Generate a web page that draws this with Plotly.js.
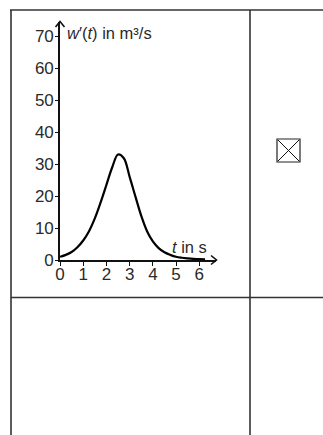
<!DOCTYPE html>
<html>
<head>
<meta charset="utf-8">
<script src="https://cdn.plot.ly/plotly-3.0.1.min.js"></script>
<style>
html,body{margin:0;padding:0;background:#fff;}
#chart{width:323px;height:435px;}
</style>
</head>
<body>
<div id="chart"></div>
<script>
// Data
const tValues = [0,0.25,0.5,0.75,1,1.25,1.5,1.75,2,2.25,2.5,2.75,3,3.25,3.5,3.75,4,4.25,4.5,4.75,5,5.25,5.5,5.75,6,6.25];
const wPrime = [1.0,1.6,2.5,4.0,6.1,9.0,13.0,18.0,23.5,29.0,33.0,31.8,26.0,19.8,13.8,9.0,5.8,3.7,2.4,1.6,1.0,0.7,0.5,0.35,0.25,0.2];
const xTicks = [0,1,2,3,4,5,6];
const yTicks = [0,10,20,30,40,50,60,70];
const yAxisTitle = "<i>w</i>′(<i>t</i>) in m³/s";
const xAxisTitle = "<i>t</i> in s";

// layout geometry (pixels)
const W = 323, H = 435;
const M = {l: 60, r: 107, t: 22, b: 175};
const pw = W - M.l - M.r, ph = H - M.t - M.b;
const px = x => (x - M.l) / pw;
const py = y => (H - M.b - y) / ph;

const lineCol = '#333';
const tableLine = (x0, y0, x1, y1) => ({
  type: 'line', xref: 'paper', yref: 'paper',
  x0: px(x0), y0: py(y0), x1: px(x1), y1: py(y1),
  line: {color: lineCol, width: 1.6}
});
const pathPx = (pts, w) => ({
  type: 'path', xref: 'paper', yref: 'paper',
  path: pts.map((p, i) => (i ? 'L' : 'M') + px(p[0]) + ',' + py(p[1])).join(' '),
  line: {color: '#111', width: w}
});

const shapes = [
  tableLine(10, 10, 323, 10),
  tableLine(11, 10, 11, 435),
  tableLine(250, 10, 250, 435),
  tableLine(11, 297.5, 323, 297.5),
  // checkbox
  {type: 'rect', xref: 'paper', yref: 'paper', x0: px(277), x1: px(300), y0: py(139), y1: py(162),
   line: {color: '#222', width: 1.2}},
  pathPx([[278, 140], [299, 161]], 1),
  pathPx([[299, 140], [278, 161]], 1),
  // axis arrowheads
  pathPx([[55.5, 27], [60, 21.5], [64.5, 27]], 1.6),
  pathPx([[211, 255.5], [216.5, 260], [211, 264.5]], 1.6)
];

const tickFont = {family: 'Liberation Sans, Arial, sans-serif', size: 17, color: '#2a2a2a'};
const titleFont = {family: 'Liberation Sans, Arial, sans-serif', size: 16.5, color: '#2a2a2a'};

const trace = {
  x: tValues, y: wPrime, type: 'scatter', mode: 'lines',
  line: {color: '#000', width: 2.2, shape: 'spline', smoothing: 1},
  hoverinfo: 'skip'
};

const layout = {
  width: W, height: H,
  margin: M,
  paper_bgcolor: '#fff', plot_bgcolor: 'rgba(0,0,0,0)',
  showlegend: false,
  xaxis: {
    range: [0, 6.72], tickvals: xTicks, ticktext: xTicks.map(String),
    showgrid: false, zeroline: false, showline: true, linecolor: '#111', linewidth: 1.8,
    ticks: 'outside', ticklen: 4, tickwidth: 1, tickcolor: '#111',
    ticklabelstandoff: -6,
    tickfont: tickFont, fixedrange: true
  },
  yaxis: {
    range: [0, 74.4], tickvals: yTicks, ticktext: yTicks.map(String),
    showgrid: false, zeroline: false, showline: true, linecolor: '#111', linewidth: 1.8,
    ticks: 'outside', ticklen: 3, tickwidth: 1, tickcolor: '#111',
    ticklabelstandoff: -2,
    tickfont: tickFont, fixedrange: true
  },
  shapes: shapes,
  annotations: [
    {xref: 'paper', yref: 'paper', x: px(65), y: py(33), xanchor: 'left', yanchor: 'middle',
     text: yAxisTitle, showarrow: false, font: titleFont},
    {xref: 'paper', yref: 'paper', x: px(170), y: py(247), xanchor: 'left', yanchor: 'middle',
     text: xAxisTitle, showarrow: false, font: titleFont}
  ]
};

Plotly.newPlot('chart', [trace], layout, {staticPlot: true, displayModeBar: false});
</script>
</body>
</html>
